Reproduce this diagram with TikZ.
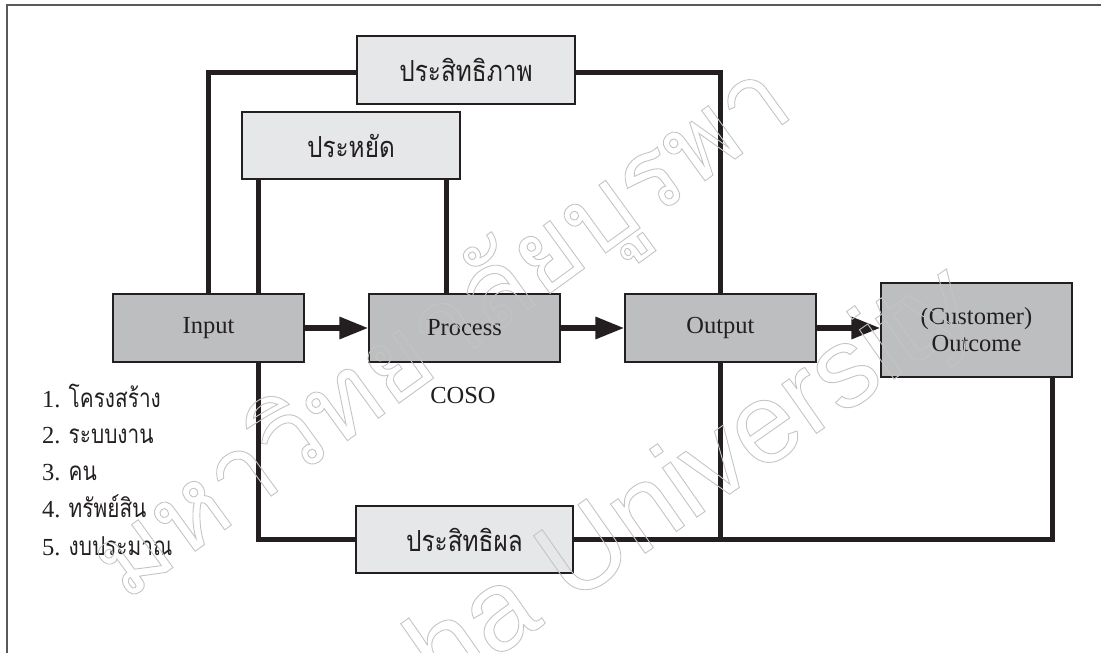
\documentclass[tikz,border=0pt]{standalone}
\usepackage{fontspec}
\setmainfont{Liberation Serif}
\newfontfamily\thaifont[Script=Thai]{Loma}
\newfontfamily\thaibox[Script=Thai, FakeStretch=0.84]{Loma}
\newfontfamily\thailist[Script=Thai, FakeStretch=0.8]{Loma}
\newfontfamily\wmlatin{Liberation Sans}
\usetikzlibrary{arrows.meta}

\definecolor{ink}{HTML}{231F20}
\definecolor{darkfill}{HTML}{BCBEC0}
\definecolor{lightfill}{HTML}{E6E7E8}
\definecolor{framegray}{HTML}{58595B}
\definecolor{wmgray}{HTML}{C4C4C4}

% hollow (stroked only) lettering for the watermark
\newcommand\hollowtext[1]{\special{pdf:literal direct 1 Tr 0.9 w}#1\special{pdf:literal direct 0 Tr}}

\tikzset{
  mainbox/.style={draw=ink, line width=1.2pt, fill=darkfill, inner sep=0pt,
    minimum width=191pt, minimum height=68pt, align=center, text=ink,
    font=\fontsize{24.5pt}{27pt}\selectfont},
  kpibox/.style={draw=ink, line width=1.2pt, fill=lightfill, inner sep=0pt,
    minimum width=218pt, minimum height=67pt, text=ink,
    font=\thaibox\fontsize{29pt}{32pt}\selectfont},
  link/.style={draw=ink, line width=5pt, line join=miter},
  flow/.style={draw=ink, line width=6pt, -{Triangle[length=29pt,width=21pt]}},
  plain/.style={text=ink, inner sep=0pt, font=\fontsize{24.5pt}{27pt}\selectfont},
  listitem/.style={plain, anchor=base west},
  watermark/.style={text=wmgray, inner sep=0pt},
}
\newcommand\thitem[1]{{\thailist\fontsize{26pt}{27pt}\selectfont #1}}

\begin{document}
\begin{tikzpicture}[x=1pt, y=-1pt]
\useasboundingbox (0,0) rectangle (1101,653);

% page frame (runs past the right and bottom edges)
\begin{scope}
  \clip (0,0) rectangle (1101,653);
  \draw[framegray, line width=1.6pt] (7,720) -- (7,5) -- (1160,5);
\end{scope}

% main chain
\node[mainbox] (input)   at (208.5,328) {Input};
\node[mainbox] (process) at (464.5,328) {Process};
\node[mainbox] (output)  at (720.5,328) {Output};
\node[mainbox, minimum height=94pt] (outcome) at (976.5,330) {(Customer)\\Outcome};
\node[plain] (coso) at (463,396) {COSO};

% indicator boxes
\node[kpibox, minimum height=68pt] (eff)    at (466,70)    {ประสิทธิภาพ};
\node[kpibox]                      (econ)   at (351,145.5) {ประหยัด};
\node[kpibox, minimum width=217pt] (effect) at (464.5,539.5) {ประสิทธิผล};

% x positions of the vertical links
\coordinate (econL) at (258,0);
\coordinate (econR) at (446,0);
\coordinate (outR)  at (1052,0);

% efficiency loop: input to output over the top
\draw[link] (input.north) |- ([yshift=-2.5pt]eff.west);
\draw[link] ([yshift=-2.5pt]eff.east) -| (output.north);

% economy links
\draw[link] (econ.south -| econL) -- (input.north -| econL);
\draw[link] (econ.south -| econR) -- (process.north -| econR);

% effectiveness loop along the bottom
\draw[link] (input.south -| econL) |- (effect.west);
\draw[link] (effect.east) -| (outcome.south -| outR);
\draw[link] (output.south) -- (output.south |- effect.east);

% flow arrows
\draw[flow] (input.east)   -- (process.west);
\draw[flow] (process.east) -- (output.west);
\draw[flow] (output.east)  -- (outcome.west |- output.east);

% input resources
\node[listitem] (r1) at (42,407) {1. \thitem{โครงสร้าง}};
\node[listitem] (r2) at (42,443) {2. \thitem{ระบบงาน}};
\node[listitem] (r3) at (42,480) {3. \thitem{คน}};
\node[listitem] (r4) at (42,517) {4. \thitem{ทรัพย์สิน}};
\node[listitem] (r5) at (42,555) {5. \thitem{งบประมาณ}};

% watermark
\begin{scope}
  \clip (0,0) rectangle (1101,653);
  \node[watermark, rotate=36, font=\thaifont\fontsize{106pt}{106pt}\selectfont] (wmth)
    at (444,335) {\hollowtext{มหาวิทยาลัยบูรพา}};
  \node[watermark, rotate=35, font=\wmlatin\fontsize{114pt}{114pt}\selectfont] (wmen)
    at (570,570) {\hollowtext{Burapha University}};
\end{scope}
\end{tikzpicture}
\end{document}
